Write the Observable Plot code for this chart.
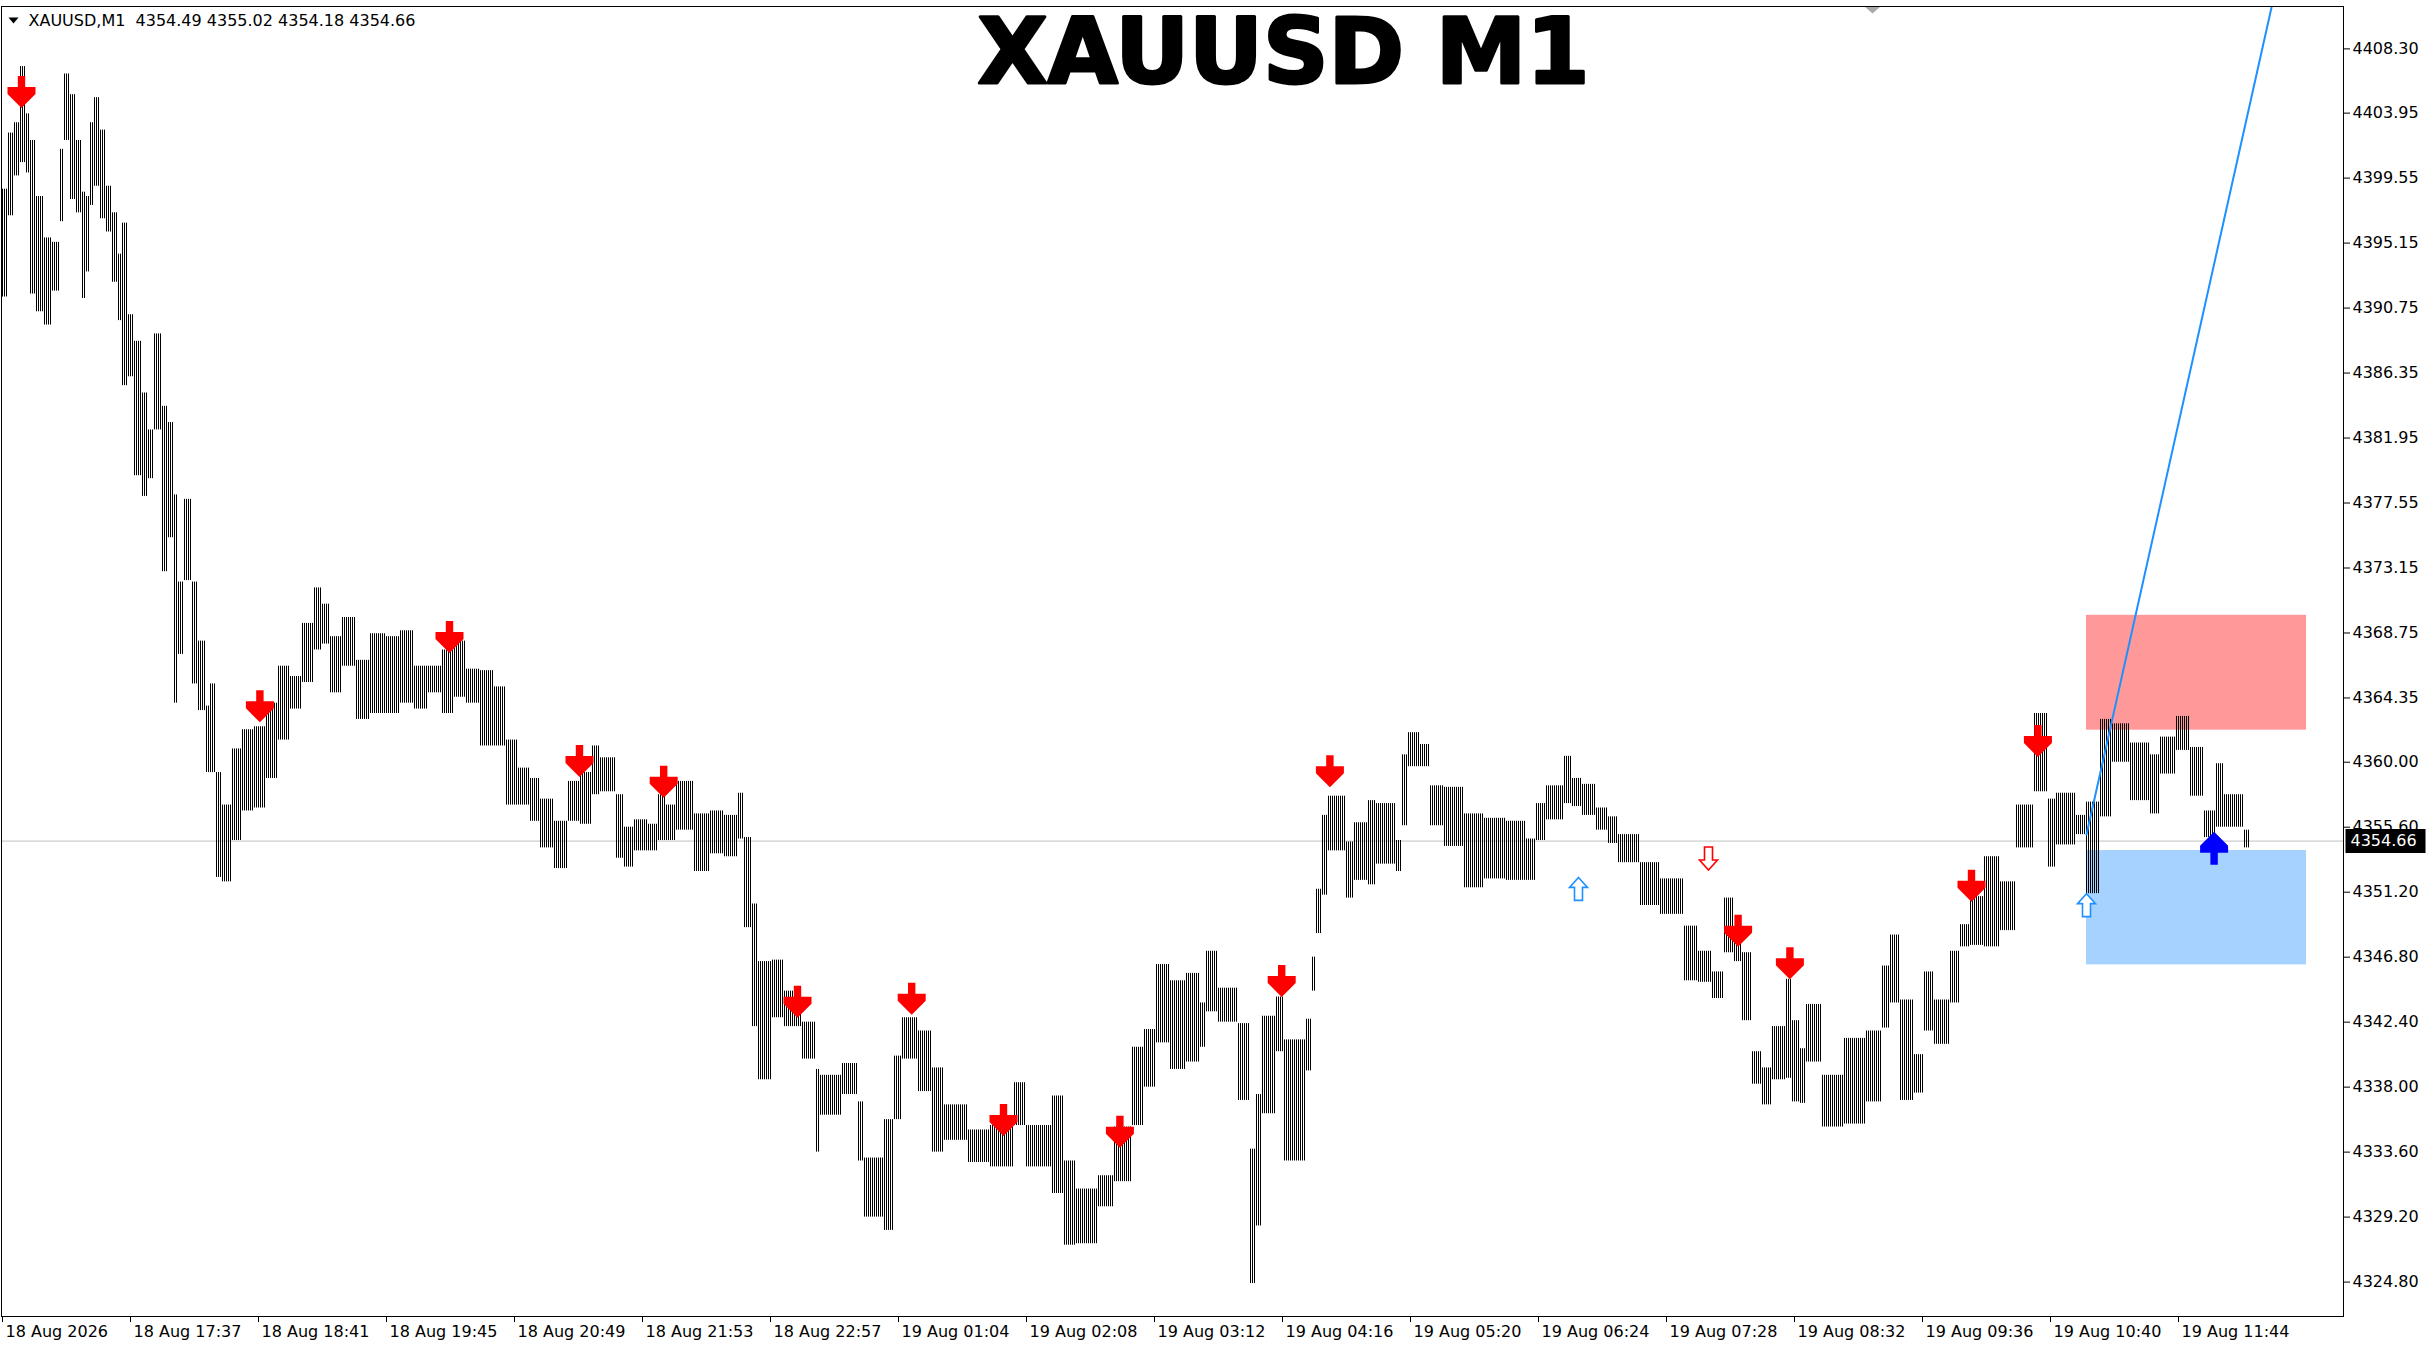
<!DOCTYPE html>
<html>
<head>
<meta charset="utf-8">
<script src="https://cdn.jsdelivr.net/npm/d3@7"></script>
<script src="https://cdn.jsdelivr.net/npm/@observablehq/plot@0.6"></script>
<style>
html, body { margin: 0; padding: 0; background: #fff; }
#chart svg { display: block; }
</style>
</head>
<body>
<div id="chart"></div>
<script>
// ---- chart data ----
const symbolName = "XAUUSD,M1";
const ohlc = [4354.49, 4355.02, 4354.18, 4354.66];
const titleText = "XAUUSD M1";
const lastClose = 4354.66;
const lastBarIndex = 1123;

// groups of M1 bars: first bar index, highest high, lowest low of the group
const barStart = [0,3,6,9,12,14,17,21,25,29,31,34,37,40,42,44,46,49,52,55,58,60,63,66,70,73,76,80,83,86,88,91,95,98,102,104,107,110,115,120,126,132,138,144,150,156,160,164,170,177,184,192,199,206,213,220,226,232,239,246,252,258,264,269,276,283,289,295,
299,307,311,316,323,328,332,337,346,354,361,368,371,375,378,385,391,400,407,409,420,428,431,441,446,450,458,465,471,483,494,506,512,525,531,537,548,556,565,571,577,584,592,
599,602,608,618,624,627,630,637,641,652,655,657,660,663,672,676,683,687,697,700,703,709,714,721,731,741,752,762,767,772,781,785,790,797,803,808,819,829,841,848,855,861,866,870,875,880,885,892,895,
899,902,910,921,932,940,944,949,956,961,966,974,979,984,991,999,1007,1016,1023,1027,1037,1042,1049,1055,1064,1074,1079,1087,1094,1101,1107,1111,1121];
const barHigh = [4398.8,4402.6,4403.3,4407.1,4403.9,4402.1,4398.3,4395.5,4395.2,4401.5,4406.6,4405.2,4402.1,4398.6,4398.3,4403.3,4405.0,4402.8,4399.0,4397.2,4394.4,4396.5,4390.3,4388.5,4385.0,4382.5,4389.0,4384.1,4383.0,4378.1,4372.2,4377.8,4372.2,4368.2,4363.8,4365.3,4359.3,4357.1,4360.9,4362.2,4362.4,4364.0,4366.5,4365.8,4369.4,4371.8,4370.7,4368.5,4369.8,4366.9,4368.7,4368.5,4368.9,4366.5,4366.5,4367.6,4368.2,4366.3,4366.2,4365.1,4361.5,4359.6,4358.9,4357.5,4356.0,4358.7,4359.3,4361.1,
4360.3,4357.8,4355.6,4356.1,4355.8,4357.8,4357.1,4358.7,4356.5,4356.7,4356.4,4357.9,4354.9,4350.4,4346.5,4346.6,4344.5,4342.4,4339.2,4338.8,4339.6,4337.0,4333.2,4335.8,4340.1,4342.7,4341.8,4339.3,4336.8,4335.1,4335.4,4338.3,4335.4,4337.4,4333.0,4331.1,4332.0,4335.3,4340.7,4341.9,4346.3,4345.2,4345.7,
4343.7,4347.2,4344.7,4342.3,4333.8,4337.5,4342.8,4344.1,4341.2,4342.6,4346.8,4351.4,4356.4,4357.7,4354.6,4355.9,4357.4,4357.2,4354.7,4360.5,4362.0,4361.2,4358.4,4358.3,4356.5,4356.2,4356.0,4354.8,4357.2,4358.4,4360.4,4358.9,4358.5,4356.9,4356.3,4355.1,4353.2,4352.1,4348.9,4347.2,4345.8,4350.8,4348.4,4347.1,4340.4,4339.3,4342.1,4345.3,4342.5,
4340.6,4343.6,4338.8,4341.3,4341.8,4346.2,4348.3,4343.9,4340.2,4345.8,4343.9,4347.2,4349.0,4350.9,4353.6,4351.9,4357.1,4363.3,4357.5,4357.9,4356.4,4357.3,4362.9,4362.6,4361.3,4360.5,4361.7,4363.1,4361.0,4356.7,4359.9,4357.8,4355.4];
const barLow = [4391.5,4397.0,4399.7,4400.6,4399.9,4391.7,4390.5,4389.6,4391.9,4396.6,4402.1,4398.1,4397.2,4391.4,4393.2,4397.7,4399.0,4396.8,4395.9,4392.5,4389.9,4385.5,4386.1,4379.4,4378.0,4379.2,4382.5,4372.9,4375.2,4364.0,4367.3,4372.3,4365.3,4363.5,4359.3,4359.3,4352.2,4351.9,4354.7,4356.7,4356.9,4358.9,4361.5,4363.6,4365.4,4367.6,4368.0,4364.7,4366.5,4362.9,4363.3,4363.3,4364.0,4363.6,4364.7,4363.3,4364.4,4364.0,4361.1,4361.1,4357.1,4357.1,4356.0,4354.2,4352.8,4356.0,4355.8,4357.8,
4358.0,4353.5,4352.9,4354.0,4354.0,4354.7,4354.7,4355.4,4352.6,4353.8,4353.6,4354.8,4348.8,4342.1,4338.5,4342.7,4342.1,4339.9,4333.6,4336.1,4337.5,4333.0,4329.2,4328.3,4335.8,4339.9,4337.7,4333.6,4334.4,4332.9,4332.6,4335.4,4332.6,4330.8,4327.3,4327.4,4329.9,4331.6,4335.4,4338.0,4341.0,4339.2,4339.7,
4340.7,4343.1,4342.4,4337.1,4324.7,4328.6,4336.2,4340.4,4333.0,4339.1,4344.5,4348.4,4351.0,4354.0,4350.8,4352.0,4351.7,4353.1,4352.6,4355.7,4359.7,4359.7,4355.7,4354.3,4351.5,4352.1,4352.0,4352.0,4354.7,4356.1,4357.2,4357.0,4356.4,4355.4,4354.5,4353.2,4350.3,4349.7,4345.2,4345.1,4344.0,4347.1,4346.5,4342.5,4338.2,4336.8,4338.5,4338.6,4337.0,
4336.9,4339.7,4335.3,4335.5,4337.0,4342.0,4343.7,4337.1,4337.6,4341.8,4340.9,4343.7,4347.5,4347.6,4347.5,4348.6,4354.2,4358.0,4352.9,4354.4,4355.1,4351.1,4356.3,4360.0,4357.4,4356.5,4359.2,4360.8,4357.7,4354.9,4355.6,4355.6,4354.2];

// signal arrows (bar index, price at the arrow tip)
const sellIdx = [9.5,128.7,223.5,288.5,330.6,397.5,454.6,500.5,558.7,639.6,663.7,867.8,893.7,984.5,1017.7];
const sellPrice = [4404.3,4362.7,4367.4,4359.0,4357.6,4342.7,4342.9,4334.7,4333.9,4344.1,4358.3,4347.5,4345.3,4350.55,4360.35];
const hollowBuyIdx = [788, 1042];
const hollowBuyPrice = [4352.2, 4351.1];
const hollowSellIdx = [853];
const hollowSellPrice = [4352.7];
const buyIdx = [1105.8];
const buyPrice = [4355.3];

// zones and trend line
const zoneX1 = [1042, 1042];
const zoneX2 = [1152, 1152];
const zoneLow = [4362.17, 4346.28];
const zoneHigh = [4369.95, 4354.02];
const zoneColor = ["#ff9999", "#a5d2ff"];
const trendIdx = [1042, 1134.5];
const trendPrice = [4355.1, 4411.1];
const shiftIdx = [935];

// axes
const yTicks = [4408.30,4403.95,4399.55,4395.15,4390.75,4386.35,4381.95,4377.55,4373.15,4368.75,4364.35,4360.00,4355.60,4351.20,4346.80,4342.40,4338.00,4333.60,4329.20,4324.80];
const xTickIdx = [0,64,128,192,256,320,384,448,512,576,640,704,768,832,896,960,1024,1088];
const xTickLabels = ["18 Aug 2026","18 Aug 17:37","18 Aug 18:41","18 Aug 19:45","18 Aug 20:49","18 Aug 21:53","18 Aug 22:57","19 Aug 01:04","19 Aug 02:08","19 Aug 03:12","19 Aug 04:16","19 Aug 05:20","19 Aug 06:24","19 Aug 07:28","19 Aug 08:32","19 Aug 09:36","19 Aug 10:40","19 Aug 11:44"];
const yDomain = [4322.47, 4411.17];
const xDomain = [-0.5, 1170.5];

// ---- build tables ----
const bars = barStart.map((s, i) => ({
  x1: s - 0.5,
  x2: (i < barStart.length - 1 ? barStart[i + 1] : lastBarIndex + 1) - 0.5,
  hi: barHigh[i], lo: barLow[i]
}));
const zones = zoneX1.map((x, i) => ({x1: x, x2: zoneX2[i], y1: zoneLow[i], y2: zoneHigh[i], c: zoneColor[i]}));
const trend = trendIdx.map((x, i) => ({x, y: trendPrice[i]}));
const pts = (xs, ys) => xs.map((x, i) => ({x, y: ys[i]}));
const xLabels = xTickIdx.map((x, i) => ({x, t: xTickLabels[i]}));

const poly = p => ({draw(ctx) { ctx.moveTo(p[0][0], p[0][1]); for (let k = 1; k < p.length; k++) ctx.lineTo(p[k][0], p[k][1]); ctx.closePath(); }});
const downBold = poly([[-3.7,-32],[3.7,-32],[3.7,-21],[14,-21],[14,-14],[0,0],[-14,-14],[-14,-21],[-3.7,-21]]);
const upBold = poly([[-3.7,33],[3.7,33],[3.7,21],[14,21],[14,14],[0,0],[-14,14],[-14,21],[-3.7,21]]);
const upHollow = poly([[0,0],[9,10],[4,10],[4,23],[-4,23],[-4,10],[-9,10]]);
const downHollow = poly([[0,0],[9,-10],[4,-10],[4,-23],[-4,-23],[-4,-10],[-9,-10]]);
const priceBox = poly([[2,-12],[82,-12],[82,12],[2,12]]);
const smallTri = poly([[-5,-3],[5,-3],[0,3]]);
const shiftTri = poly([[-8,0],[8,0],[0,7]]);

const font = "DejaVu Sans";

const chart = Plot.plot({
  width: 2436,
  height: 1350,
  marginLeft: 1,
  marginRight: 93,
  marginTop: 6,
  marginBottom: 34,
  x: {domain: xDomain, axis: null},
  y: {domain: yDomain, axis: null},
  style: {fontFamily: font, fontSize: "16px", color: "#000", background: "#fff", overflow: "visible"},
  marks: [
    Plot.rect(zones, {x1: "x1", x2: "x2", y1: "y1", y2: "y2", fill: d => d.c}),
    Plot.ruleY([lastClose], {stroke: "#c0c0c0", strokeWidth: 1}),
    Plot.rect(bars, {x1: "x1", x2: "x2", y1: "lo", y2: "hi", fill: "url(#barStripes)"}),
    Plot.line(trend, {x: "x", y: "y", stroke: "#1e90ff", strokeWidth: 2}),
    Plot.dot(pts(sellIdx, sellPrice), {x: "x", y: "y", symbol: downBold, fill: "#ff0000", stroke: "none"}),
    Plot.dot(pts(hollowBuyIdx, hollowBuyPrice), {x: "x", y: "y", symbol: upHollow, fill: "#fff", stroke: "#1e90ff", strokeWidth: 1.6}),
    Plot.dot(pts(hollowSellIdx, hollowSellPrice), {x: "x", y: "y", symbol: downHollow, fill: "#fff", stroke: "#ff0000", strokeWidth: 1.6}),
    Plot.dot(pts(buyIdx, buyPrice), {x: "x", y: "y", symbol: upBold, fill: "#0000ff", stroke: "none"}),
    Plot.dot(shiftIdx, {x: d => d, frameAnchor: "top", symbol: shiftTri, fill: "#a9a9a9", stroke: "none"}),
    Plot.frame({stroke: "#000", strokeWidth: 1}),
    Plot.axisX({ticks: xTickIdx, tickSize: 6, tickFormat: () => "", stroke: "#000"}),
    Plot.text(xLabels, {x: "x", text: "t", frameAnchor: "bottom", dx: 3, dy: 15, textAnchor: "start", lineAnchor: "middle", fontSize: 16, fill: "#000"}),
    Plot.axisY({anchor: "right", ticks: yTicks, tickFormat: d => d.toFixed(2), tickSize: 6, tickPadding: 3, fontSize: 16, stroke: "#000", fill: "#000"}),
    Plot.dot([lastClose], {y: d => d, frameAnchor: "right", symbol: priceBox, fill: "#000", stroke: "none"}),
    Plot.text([lastClose], {y: d => d, frameAnchor: "right", text: d => d.toFixed(2), dx: 7, textAnchor: "start", lineAnchor: "middle", fontSize: 16, fill: "#fff"}),
    Plot.dot([0], {frameAnchor: "top-left", dx: 12, dy: 14, symbol: smallTri, fill: "#000", stroke: "none"}),
    Plot.text([symbolName + "\u00a0\u00a0" + ohlc.map(v => v.toFixed(2)).join(" ")], {text: d => d, frameAnchor: "top-left", dx: 27, dy: 14, textAnchor: "start", lineAnchor: "middle", fontSize: 16, fill: "#000"}),
    Plot.text([titleText], {text: d => d, frameAnchor: "top", dx: 111, dy: 47, lineAnchor: "middle", fontSize: 91, fontWeight: "bold", fill: "#000", stroke: "#000", strokeWidth: 3})
  ]
});

const svg = d3.select(chart);
const defs = svg.insert("defs", ":first-child");
const pat = defs.append("pattern").attr("id", "barStripes").attr("patternUnits", "userSpaceOnUse").attr("width", 2).attr("height", 8);
pat.append("rect").attr("x", 0).attr("y", 0).attr("width", 1).attr("height", 8).attr("fill", "#000");

document.getElementById("chart").appendChild(chart);
</script>
</body>
</html>
